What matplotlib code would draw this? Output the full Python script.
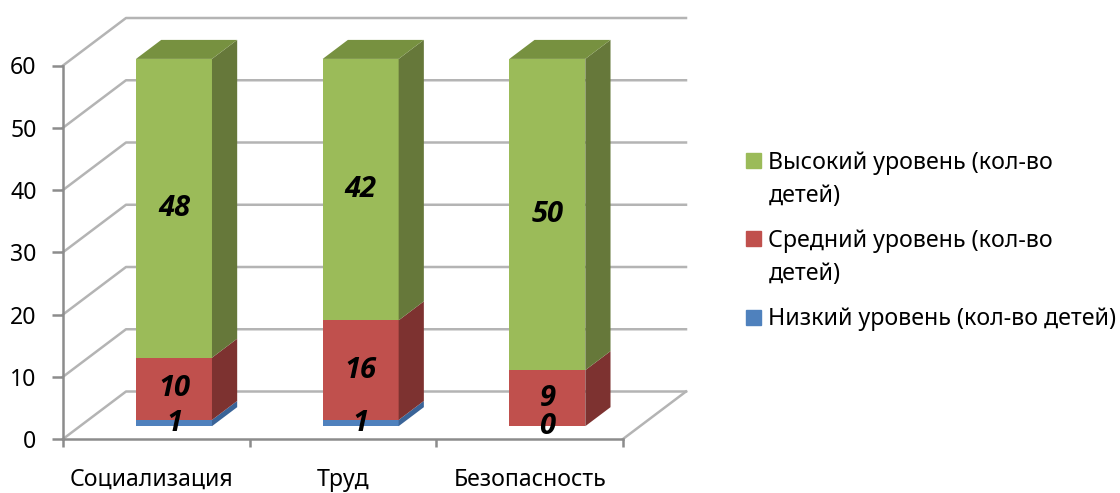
import matplotlib
matplotlib.use("Agg")
import matplotlib.pyplot as plt
from matplotlib.patches import Patch, Rectangle
from matplotlib.legend_handler import HandlerPatch

plt.rcParams['font.family'] = ['Noto Sans', 'DejaVu Sans']

#DATA
CATEGORIES = ['Социализация', 'Труд', 'Безопасность']
LOW = [1, 1, 0]
MEDIUM = [10, 16, 9]
HIGH = [48, 42, 50]
Y_TICKS = [0, 10, 20, 30, 40, 50, 60]

NAMES = ['Низкий уровень (кол-во детей)', 'Средний уровень (кол-во\nдетей)', 'Высокий уровень (кол-во\nдетей)']

#Colors: front, side, top
COLOR_FRONT = ['#4F81BD', '#C0504D', '#9BBB59']
COLOR_SIDE = ['#3A6498', '#7D3230', '#66783A']
COLOR_TOP = ['#3F6797', '#9A403D', '#779140']

GRID_COLOR = '#b4b4b4'
AXIS_COLOR = '#8c8c8c'

#Size of the 3D box, in axis units
DEPTH_X = 0.3375
DEPTH_Y = 7.63
#Where the bars sit inside the box
BAR_LEFT = 0.30
BAR_WIDTH = 0.407
BAR_NEAR = 0.27
BAR_FAR = 0.67


def draw_box(ax):
    for v in Y_TICKS:
        ax.plot([0, DEPTH_X, 3 + DEPTH_X], [v, v + DEPTH_Y, v + DEPTH_Y], color=GRID_COLOR, linewidth=1.8, zorder=1, clip_on=False)
    # right edge of the floor
    ax.plot([3, 3 + DEPTH_X], [0, DEPTH_Y], color=GRID_COLOR, linewidth=1.8, zorder=1, clip_on=False)


def draw_bar(ax, i, series):
    x0 = i + BAR_LEFT + BAR_NEAR * DEPTH_X
    x1 = x0 + BAR_WIDTH
    dx = (BAR_FAR - BAR_NEAR) * DEPTH_X
    dy = (BAR_FAR - BAR_NEAR) * DEPTH_Y
    base = BAR_NEAR * DEPTH_Y
    bottom = 0
    for s, values in enumerate(series):
        top = bottom + values[i]
        y0 = base + bottom
        y1 = base + top
        ax.fill([x0, x1, x1, x0], [y0, y0, y1, y1], color=COLOR_FRONT[s], linewidth=0, zorder=3, clip_on=False)
        ax.fill([x1, x1 + dx, x1 + dx, x1], [y0, y0 + dy, y1 + dy, y1], color=COLOR_SIDE[s], linewidth=0, zorder=3, clip_on=False)
        bottom = top
    # only the top of the stack shows
    y1 = base + bottom
    ax.fill([x0, x1, x1 + dx, x0 + dx], [y1, y1, y1 + dy, y1 + dy], color=COLOR_TOP[2], linewidth=0, zorder=3, clip_on=False)

    # labels in the middle of each segment
    bottom = 0
    for values in series:
        ax.text((x0 + x1) / 2, base + bottom + values[i] / 2, str(values[i]), family='Open Sans', fontsize=21, fontweight='bold', fontstyle='italic',
                ha='center', va='center', color='black', zorder=5)
        bottom += values[i]


'''
Legend square sits next to the first line of its entry, not in the middle of it
'''
def first_line_square(shift):
    def make(legend, orig_handle, xdescent, ydescent, width, height, fontsize):
        return Rectangle((-xdescent, -ydescent + shift), width, height)
    return HandlerPatch(patch_func=make)


def main():
    fig = plt.figure(figsize=(11.2, 4.93), dpi=100)
    ax = fig.add_axes([63 / 1120, (493 - 439) / 493, 560 / 1120, 373.5 / 493])
    ax.set_xlim(0, 3)
    ax.set_ylim(0, 60)
    ax.patch.set_visible(False)

    draw_box(ax)
    series = [LOW, MEDIUM, HIGH]
    for i in range(len(CATEGORIES)):
        draw_bar(ax, i, series)

    for side in ['top', 'right']:
        ax.spines[side].set_visible(False)
    for side in ['left', 'bottom']:
        ax.spines[side].set_color(AXIS_COLOR)
        ax.spines[side].set_linewidth(1.8)
    ax.set_yticks(Y_TICKS)
    ax.set_xticks([0, 1, 2, 3])
    ax.set_xticklabels([])
    ax.set_xticks([0.475, 1.50, 2.50], CATEGORIES, minor=True)
    ax.tick_params(axis='x', which='major', length=6, width=1.8, color=AXIS_COLOR)
    ax.tick_params(axis='x', which='minor', length=0, pad=21, labelsize=16.6)
    ax.tick_params(axis='y', length=8, width=1.8, color=AXIS_COLOR, pad=11, labelsize=16.6)

    handles = [Patch(color=c) for c in COLOR_FRONT[::-1]]
    handler_map = {handles[0]: first_line_square(14), handles[1]: first_line_square(14), handles[2]: first_line_square(0)}
    leg = fig.legend(handles, NAMES[::-1], loc='upper left', bbox_to_anchor=(737 / 1120, 1 - 142 / 493), frameon=False, fontsize=16.7,
                     handlelength=0.62, handleheight=0.62, handletextpad=0.33, labelspacing=0.93, borderpad=0.4, borderaxespad=0,
                     handler_map=handler_map)
    for t in leg.get_texts():
        t.set_linespacing(1.47)

    fig.savefig('out.png', dpi=100)
    plt.close()


main()
